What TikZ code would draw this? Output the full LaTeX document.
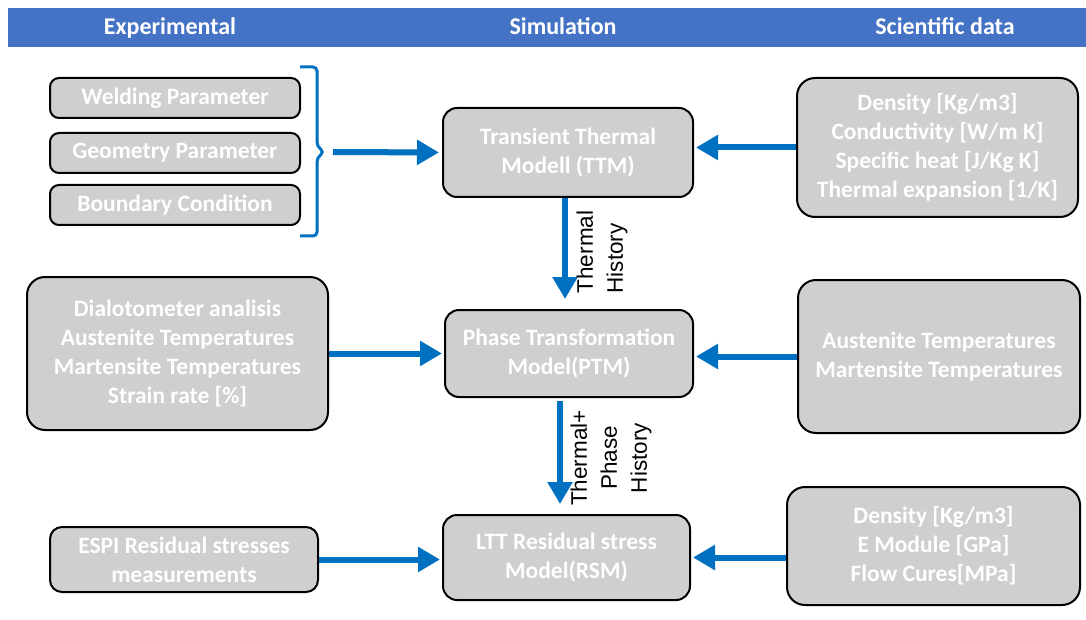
\documentclass[tikz,border=0pt]{standalone}
\usepackage{fontspec}
\setmainfont{Carlito}
\newfontfamily\labelfont{Liberation Sans}
\usetikzlibrary{arrows.meta,calc}
\definecolor{hdr}{HTML}{4472C4}
\definecolor{arr}{HTML}{0070C0}
\definecolor{boxg}{HTML}{D0CECE}
\begin{document}
\begin{tikzpicture}[x=1pt,y=-1pt,
 box/.style={draw=black,line width=2pt,fill=boxg,rounded corners=9pt,text=white,
   font=\fontsize{23.5}{29}\selectfont\bfseries,align=center,inner sep=0pt},
 bigbox/.style={box,rounded corners=18pt},
 flow/.style={draw=arr,line width=6pt,-{Triangle[length=22pt,width=24pt]}},
 hd/.style={text=white,font=\fontsize{24}{28}\selectfont\bfseries,anchor=base},
 lbl/.style={font=\labelfont\fontsize{22.5}{30}\selectfont,rotate=90,inner sep=0pt}]
\useasboundingbox (0,0) rectangle (1086,620);
\fill[white] (0,0) rectangle (1086,620);
% header
\fill[hdr] (8,8) rectangle (1086,47);
\node[hd] (h1) at (170,35) {Experimental};
\node[hd] (h2) at (563,35) {Simulation};
\node[hd] (h3) at (945,35) {Scientific data};
% left column
\node[box,minimum width=250pt,minimum height=40pt] (wp) at (175,98) {Welding Parameter};
\node[box,minimum width=250pt,minimum height=40pt] (gp) at (175,153) {Geometry Parameter};
\node[box,minimum width=250pt,minimum height=40pt] (bc) at (175,205) {Boundary Condition};
\node[bigbox,minimum width=301pt,minimum height=153pt] (dil) at (177.5,353.5)
  {Dialotometer analisis\\Austenite Temperatures\\Martensite Temperatures\\Strain rate [\%]};
\node[box,rounded corners=12pt,minimum width=268pt,minimum height=65pt] (espi) at (184,559.5)
  {ESPI Residual stresses\\measurements};
% middle column
\node[box,rounded corners=14pt,minimum width=250pt,minimum height=89pt] (ttm) at (568,152.5)
  {Transient Thermal\\Modell (TTM)};
\node[box,rounded corners=14pt,minimum width=248pt,minimum height=87pt] (ptm) at (569,353.5)
  {Phase Transformation\\Model(PTM)};
\node[box,rounded corners=14pt,minimum width=247pt,minimum height=85pt] (rsm) at (566.5,557.5)
  {LTT Residual stress\\Model(RSM)};
% right column
\node[bigbox,minimum width=281pt,minimum height=139pt] (sci1) at (937.5,147.5)
  {Density [Kg/m3]\\Conductivity [W/m K]\\Specific heat [J/Kg K]\\Thermal expansion [1/K]};
\node[bigbox,minimum width=282pt,minimum height=153pt] (sci2) at (939,356.5)
  {Austenite Temperatures\\Martensite Temperatures};
\node[bigbox,minimum width=293pt,minimum height=118pt] (sci3) at (933.5,546)
  {Density [Kg/m3]\\E Module [GPa]\\Flow Cures[MPa]};
% bracket
\coordinate (brace) at (324,152);
\draw[arr,line width=3pt,rounded corners=4pt]
  (300,67) -- (317,67) -- (317,146) -- (brace) -- (317,158) -- (317,236) -- (300,236);
% arrows
\draw[flow,shorten >=3pt] ([xshift=9pt]brace) -- (ttm.west);
\draw[flow,shorten >=2pt] (sci1.west) -- (sci1.west -| ttm.east);
\draw[flow,shorten >=2pt] (dil.east) -- (ptm.west);
\draw[flow,shorten >=2pt] (sci2.west) -- (sci2.west -| ptm.east);
\draw[flow,shorten >=2pt] (espi.east) -- (espi.east -| rsm.west);
\draw[flow,shorten >=2pt] (sci3.west |- rsm.east) -- (rsm.east);
\draw[flow,shorten >=10pt] ([xshift=-3pt]ttm.south) -- ([xshift=-4pt]ptm.north);
\draw[flow,shorten <=3pt,shorten >=10pt] ([xshift=-9pt]ptm.south) -- ([xshift=-6.5pt]rsm.north);
% labels
\node[lbl,align=left] (l1) at (602,252) {Thermal\\History};
\node[lbl,align=center] (l2) at (611,458) {Thermal+\\Phase\\History};
\end{tikzpicture}
\end{document}
